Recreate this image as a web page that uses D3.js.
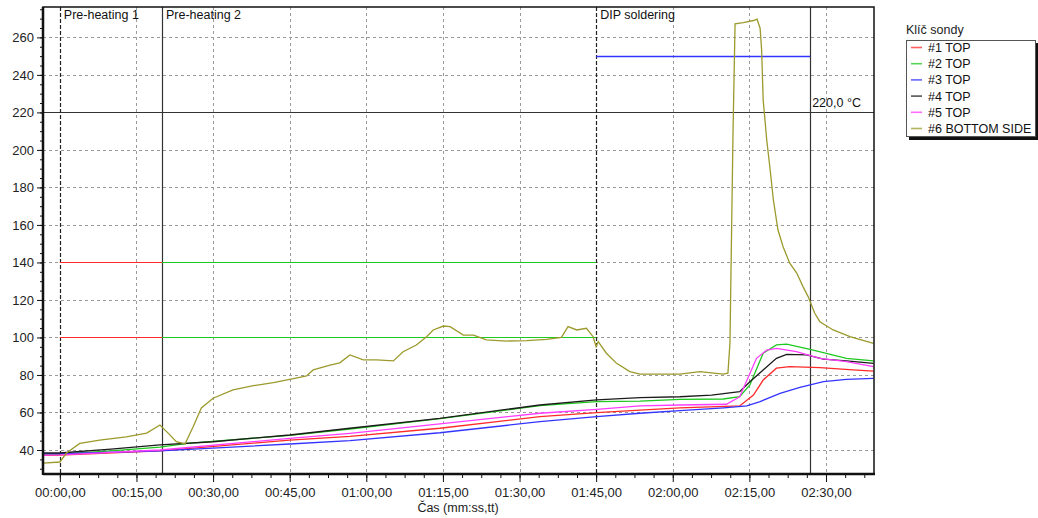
<!DOCTYPE html>
<html>
<head>
<meta charset="utf-8">
<script src="https://cdn.jsdelivr.net/npm/d3@7"></script>
<style>
  body { margin: 0; background: #fff; }
  svg { font-family: "Liberation Sans", Arial, sans-serif; font-size: 12.5px; }
</style>
</head>
<body>
<svg id="chart" width="1038" height="518"></svg>
<script>
// probe readings, [seconds, °C]
var probe1 = [[-3.3,37.2],[0,37.3],[19.6,39.5],[45,45.3],[56.8,47.3],[74.4,51.6],[94,57.8],[105.1,59.9],[113.6,61.3],[121.4,62.5],[133.1,63.5],[135.8,69.3],[137.7,77.3],[140.3,83.6],[142.9,84.4],[148.8,83.9],[155.3,82.7],[159.3,82.1]],
    probe2 = [[-3.3,37.8],[0,37.8],[10,39.5],[19.6,41.5],[25,43.5],[45,47.8],[56.8,51.2],[74.4,56.7],[94,63.7],[105.1,65.8],[113.6,66.1],[121.4,67],[129.9,67.2],[133.1,68.4],[135.1,74.7],[137.7,91.6],[140.3,96],[142.3,96.4],[147.5,93.3],[154,88.9],[159.3,87.5]],
    probe3 = [[-3.3,37.9],[0,38],[19.6,39.5],[45,43.2],[56.8,45],[74.4,49.2],[94,55.1],[105.1,57.8],[113.6,59.6],[121.4,61],[130,62.5],[134.5,63.5],[137.1,65.8],[141,70.2],[144.9,73.4],[149.5,76.4],[154,77.7],[159.3,78.2]],
    probe4 = [[-3.3,38.4],[0,38.4],[10,40.5],[19.6,42.7],[30,44.4],[45,48],[56.8,51.6],[74.4,56.9],[94,64],[105.1,66.7],[113.6,67.9],[121.4,68.4],[127.6,69.3],[133.1,71.1],[135.1,76.4],[137.7,82.7],[140.3,88.9],[142.3,91],[146.2,90.7],[149.5,88.4],[154,87.5],[159.3,86.2]],
    probe5 = [[-3.3,37.3],[0,37.4],[19.6,40],[45,46.2],[56.8,48.9],[74.4,53.9],[94,59.6],[105.1,61.7],[113.6,63.5],[121.4,64],[130.5,64.4],[133.1,68.4],[136.4,88.9],[138.4,93.3],[140.3,94.2],[144.2,92.4],[148.8,88.9],[154,87.1],[159.3,84.4]],
    probe6 = [[-3.3,33],[0,33.6],[1.3,38.4],[3.9,43.5],[7.8,45.3],[13,47],[17,49],[19.6,53.3],[21.2,49],[22.8,44.4],[24.5,43.2],[26.1,52.4],[27.7,62.4],[30,67.6],[33.9,72],[37.9,74.3],[41.8,75.9],[45,77.7],[48.3,79.5],[49.6,82.7],[52.9,85.3],[54.8,86.5],[56.8,90.7],[59.4,88],[62,88],[65.3,87.5],[67.2,92.4],[69.8,96],[71.8,100.4],[73.1,104],[75.1,106.1],[76.4,105.8],[79,101.3],[81,101.3],[83.5,98.7],[87.5,98.1],[91.4,98.3],[95.3,99],[98.2,100],[99.5,105.8],[101.2,104],[103.1,104.9],[104.4,100.4],[105,95.1],[105.4,97.8],[107,91.6],[109,86.2],[111.6,81.8],[113.6,80.5],[121.4,80.5],[125.3,81.8],[129.9,80.5],[130.8,81],[131.2,97],[131.8,210],[132.2,267.2],[133.8,267.9],[135.8,269],[136.5,269.7],[137.1,264.9],[137.4,253.3],[137.7,226.7],[138.4,205.3],[139,191],[139.7,173.3],[140.6,157.3],[141.6,148.4],[142.9,139.6],[144.3,134.2],[145.5,127.1],[146.5,121.8],[147.8,112.9],[148.8,108.4],[151.4,104],[154.7,100.4],[159.3,96.9]];

var seriesNames = ["#1 TOP", "#2 TOP", "#3 TOP", "#4 TOP", "#5 TOP", "#6 BOTTOM SIDE"],
    seriesData = [probe1, probe2, probe3, probe4, probe5, probe6],
    seriesColors = ["#ff2a2a", "#1ec81e", "#3434ff", "#1c1c1c", "#ff3cff", "#9c9a2c"];

// zone markers (seconds) and their labels
var markerTimes = [0, 20, 105, 146.9],
    markerDashed = [true, false, true, false],
    zoneLabels = ["Pre-heating 1", "Pre-heating 2", "DIP soldering"],
    zoneStarts = [0, 20, 105];

// limit segments per zone: [from, to, °C]
var limitFrom = [0, 0, 20, 20, 105],
    limitTo = [20, 20, 105, 105, 146.9],
    limitValue = [140, 100, 140, 100, 250],
    limitColor = ["#ff2a2a", "#ff2a2a", "#1ec81e", "#1ec81e", "#3434ff"];

var thresholdValue = 220,
    thresholdLabel = "220,0 °C",
    xTicks = d3.range(0, 151, 15),
    yTicks = d3.range(40, 261, 20);

(function () {
  var svg = d3.select("#chart"),
      pLeft = 43, pRight = 874, pTop = 7, pBottom = 474,
      FONT = "\"Liberation Sans\", Arial, sans-serif";

  var x = d3.scaleLinear().domain([-3.3, 159.4]).range([pLeft, pRight]),
      y = d3.scaleLinear().domain([27.2, 276.2]).range([pBottom, pTop]);

  function fmtTime(s) {
    var m = Math.floor(s / 60), sec = s % 60;
    return (m < 10 ? "0" : "") + m + ":" + (sec < 10 ? "0" : "") + sec + ",00";
  }
  function px(v) { return Math.round(v) + 0.5; }

  // grid
  svg.append("g").selectAll("line").data(yTicks).enter().append("line")
    .attr("x1", pLeft).attr("x2", pRight)
    .attr("y1", function (d) { return px(y(d)); })
    .attr("y2", function (d) { return px(y(d)); })
    .style("stroke", "#9a9a9a").style("stroke-dasharray", "3,3");
  svg.append("g").selectAll("line").data(xTicks).enter().append("line")
    .attr("y1", pTop).attr("y2", pBottom)
    .attr("x1", function (d) { return px(x(d)); })
    .attr("x2", function (d) { return px(x(d)); })
    .style("stroke", "#9a9a9a").style("stroke-dasharray", "3,3");

  // threshold line
  svg.append("line")
    .attr("x1", pLeft).attr("x2", pRight)
    .attr("y1", px(y(thresholdValue))).attr("y2", px(y(thresholdValue)))
    .style("stroke", "#333").style("stroke-width", 1.2);
  svg.append("text")
    .attr("x", x(markerTimes[3]) + 2).attr("y", y(thresholdValue) - 5)
    .style("fill", "#111").text(thresholdLabel);

  // zone markers
  svg.append("g").selectAll("line").data(markerTimes).enter().append("line")
    .attr("y1", pTop).attr("y2", pBottom)
    .attr("x1", function (d) { return px(x(d)); })
    .attr("x2", function (d) { return px(x(d)); })
    .style("stroke", function (d, i) { return markerDashed[i] ? "#222" : "#333"; })
    .style("stroke-width", 1.2)
    .style("stroke-dasharray", function (d, i) { return markerDashed[i] ? "4,2" : null; });

  svg.append("g").selectAll("text").data(zoneLabels).enter().append("text")
    .attr("x", function (d, i) { return x(zoneStarts[i]) + 4; })
    .attr("y", 19)
    .style("fill", "#111")
    .text(function (d) { return d; });

  // limit segments
  svg.append("g").selectAll("line").data(limitValue).enter().append("line")
    .attr("x1", function (d, i) { return x(limitFrom[i]); })
    .attr("x2", function (d, i) { return x(limitTo[i]); })
    .attr("y1", function (d) { return px(y(d)); })
    .attr("y2", function (d) { return px(y(d)); })
    .style("stroke", function (d, i) { return limitColor[i]; })
    .style("stroke-width", function (d) { return d === 250 ? 1.4 : 1; });

  // series
  var line = d3.line()
    .x(function (d) { return x(d[0]); })
    .y(function (d) { return y(d[1]); });

  svg.append("g").selectAll("path").data(seriesData).enter().append("path")
    .attr("d", line)
    .style("fill", "none")
    .style("stroke", function (d, i) { return seriesColors[i]; })
    .style("stroke-width", 1.3);

  // axes
  svg.append("g").attr("transform", "translate(" + pLeft + ",0)")
    .call(d3.axisLeft(y).tickValues(yTicks).tickSize(6).tickPadding(3).tickFormat(d3.format("d")));
  svg.append("g").attr("transform", "translate(" + pLeft + ",0)")
    .call(d3.axisLeft(y).tickValues(d3.range(30, 276, 5)).tickSize(3).tickFormat(""));

  svg.append("g").attr("transform", "translate(0," + pBottom + ")")
    .call(d3.axisBottom(x).tickValues(xTicks).tickSize(8).tickPadding(6).tickFormat(fmtTime));
  svg.append("g").attr("transform", "translate(0," + pBottom + ")")
    .call(d3.axisBottom(x).tickValues(d3.range(0, 159, 3.75)).tickSize(4).tickFormat(""));

  svg.selectAll(".domain").remove();
  svg.selectAll(".tick line").style("stroke", "#111");
  svg.selectAll(".tick text").style("font-size", "13px").style("fill", "#222")
    .style("font-family", FONT);

  // frame
  svg.append("rect")
    .attr("x", pLeft).attr("y", pTop)
    .attr("width", pRight - pLeft).attr("height", pBottom - pTop)
    .style("fill", "none").style("stroke", "#111").style("stroke-width", 1.5);
  svg.append("line").attr("x1", pLeft).attr("x2", pLeft).attr("y1", pTop).attr("y2", pBottom + 1)
    .style("stroke", "#111").style("stroke-width", 2.5);
  svg.append("line").attr("x1", pLeft).attr("x2", pRight + 1).attr("y1", pBottom).attr("y2", pBottom)
    .style("stroke", "#111").style("stroke-width", 2.5);

  svg.append("text")
    .attr("x", 458).attr("y", 512)
    .attr("text-anchor", "middle")
    .style("fill", "#222")
    .text("Čas (mm:ss,tt)");

  // legend
  var lg = svg.append("g");
  lg.append("text").attr("x", 906).attr("y", 34).style("fill", "#222").text("Klíč sondy");
  lg.append("rect").attr("x", 909).attr("y", 43).attr("width", 130).attr("height", 97).style("fill", "#111");
  lg.append("rect").attr("x", 906.5).attr("y", 40.5).attr("width", 129).attr("height", 96)
    .style("fill", "#fff").style("stroke", "#555");
  var rows = lg.selectAll("g.row").data(seriesNames).enter().append("g")
    .attr("transform", function (d, i) { return "translate(0," + (47.5 + i * 16.2) + ")"; });
  rows.append("line").attr("x1", 911).attr("x2", 922)
    .style("stroke", function (d, i) { return seriesColors[i]; })
    .style("stroke-width", 1.6).style("opacity", 0.75);
  rows.append("text").attr("x", 928).attr("y", 4.5).style("fill", "#111")
    .text(function (d) { return d; });
}());
</script>
</body>
</html>
